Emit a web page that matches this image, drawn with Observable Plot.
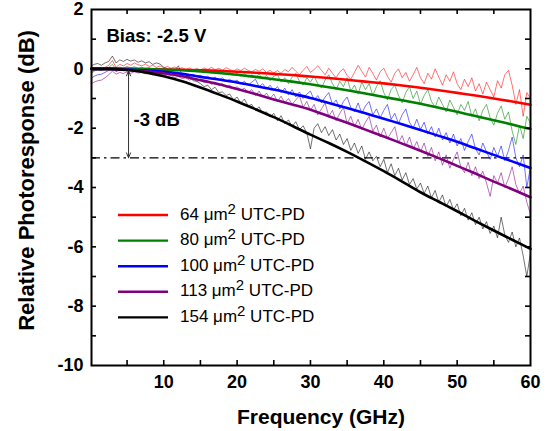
<!DOCTYPE html>
<html><head><meta charset="utf-8">
<script src="https://cdn.jsdelivr.net/npm/d3@7"></script>
<script src="https://cdn.jsdelivr.net/npm/@observablehq/plot@0.6"></script>
<style>body{margin:0;background:#fff}#chart{width:554px;height:431px}</style>
</head><body><div id="chart"></div>
<script>
// ---------- data ----------
const seriesNames = ["64", "80", "100", "113", "154"];
const seriesColors = ["#ff0000", "#008000", "#0000ff", "#800080", "#000000"];
const legendLabels = ["64", "80", "100", "113", "154"];

// fitted curves (dB) at these frequencies (GHz)
const fitFreq = [0.15, 2.5, 5, 7.5, 10, 12.5, 15, 17.5, 20, 22.5, 25, 27.5, 30, 32.5, 35, 37.5, 40, 42.5, 45, 47.5, 50, 52.5, 55, 57.5, 60];
const fit64  = [0, 0, 0, -0.01, -0.02, -0.03, -0.05, -0.07, -0.1, -0.13, -0.17, -0.21, -0.26, -0.31, -0.37, -0.43, -0.49, -0.56, -0.64, -0.72, -0.81, -0.9, -1.0, -1.1, -1.21];
const fit80  = [0, 0, 0, -0.01, -0.03, -0.05, -0.09, -0.14, -0.2, -0.27, -0.35, -0.43, -0.52, -0.62, -0.72, -0.83, -0.95, -1.06, -1.18, -1.31, -1.45, -1.59, -1.73, -1.88, -2.03];
const fit100 = [0, 0, -0.02, -0.05, -0.1, -0.17, -0.27, -0.36, -0.46, -0.58, -0.7, -0.84, -0.98, -1.15, -1.32, -1.5, -1.68, -1.87, -2.06, -2.26, -2.46, -2.68, -2.9, -3.12, -3.34];
const fit113 = [0, 0, -0.03, -0.08, -0.15, -0.25, -0.38, -0.52, -0.68, -0.85, -1.03, -1.2, -1.38, -1.6, -1.82, -2.05, -2.28, -2.52, -2.76, -3.01, -3.27, -3.53, -3.8, -4.06, -4.33];
const fit154 = [0, 0, -0.04, -0.12, -0.25, -0.42, -0.63, -0.86, -1.1, -1.36, -1.63, -1.92, -2.22, -2.5, -2.8, -3.12, -3.45, -3.8, -4.16, -4.48, -4.8, -5.13, -5.45, -5.76, -6.07];

// measured traces: sweep at 0.15 GHz, then every 0.5 GHz up to 60 GHz
const measFreq = [0.15].concat(d3.range(0.5, 60.01, 0.5));
const meas64 = [-0.12,
 -0.05, 0.02, -0.03, 0.05, 0.12, 0.28, 0.05, 0.15, 0.1, 0.18,
 0.12, 0.2, 0.14, 0.1, 0.16, 0.08, 0.12, 0.05, 0.1, 0.03,
 0.08, 0.02, 0.06, 0.0, 0.04, -0.02, 0.03, -0.03, 0.02, -0.04,
 0.03, -0.02, 0.05, -0.03, 0.02, -0.05, 0.04, -0.02, -0.08, 0.0,
 -0.06, 0.02, -0.05, -0.1, -0.02, -0.08, 0.0, -0.12, -0.05, -0.14,
 -0.06, -0.15, -0.02, -0.1, 0.05, -0.08, -0.2, -0.05, 0.08, -0.12,
 -0.02, 0.1, -0.05, -0.2, 0.02, -0.15, -0.3, -0.1, 0.0, -0.22,
 -0.35, -0.12, 0.12, -0.08, -0.28, 0.05, -0.15, -0.38, -0.1, 0.02,
 -0.25, -0.45, -0.15, 0.0, -0.3, -0.12, -0.42, -0.2, 0.05, -0.3,
 -0.5, -0.15, -0.35, 0.0, -0.28, -0.55, -0.2, -0.42, -0.1, -0.5,
 -0.7, -0.35, -0.6, -0.3, -0.75, -0.5, -0.85, -0.45, -0.7, -0.95,
 -0.4, -0.65, -0.2, -0.05, -0.55, -1.2, -0.7, -1.6, -0.8, -1.0];
const meas80 = [-0.15,
 -0.08, -0.02, -0.06, 0.0, 0.05, 0.15, -0.02, 0.06, 0.02, 0.08,
 0.03, 0.07, 0.01, 0.05, 0.0, 0.04, -0.02, 0.03, -0.03, 0.01,
 -0.04, 0.0, -0.05, -0.01, -0.06, -0.03, -0.08, -0.04, -0.1, -0.06,
 -0.12, -0.07, -0.14, -0.09, -0.16, -0.1, -0.2, -0.12, -0.22, -0.15,
 -0.25, -0.16, -0.28, -0.2, -0.3, -0.18, -0.35, -0.22, -0.4, -0.25,
 -0.2, -0.45, -0.3, -0.5, -0.28, -0.15, -0.42, -0.55, -0.3, -0.45,
 -0.25, -0.5, -0.65, -0.38, -0.2, -0.5, -0.7, -0.42, -0.6, -0.3,
 -0.75, -0.55, -0.85, -0.45, -0.7, -0.5, -0.9, -0.6, -0.4, -0.8,
 -1.05, -0.7, -0.55, -0.9, -1.15, -0.8, -0.6, -1.0, -0.75, -1.2,
 -0.9, -0.7, -1.1, -1.3, -0.95, -1.2, -1.45, -1.05, -1.3, -1.55,
 -1.2, -1.4, -1.1, -1.6, -1.35, -1.75, -1.4, -1.2, -1.65, -1.9,
 -1.5, -1.25, -1.7, -1.45, -2.1, -2.55, -1.9, -2.35, -1.6, -1.85];
const meas100 = [-0.32,
 -0.25, -0.2, -0.18, -0.12, -0.05, 0.05, -0.1, -0.02, -0.06, 0.0,
 -0.05, -0.02, -0.07, -0.03, -0.08, -0.05, -0.1, -0.07, -0.12, -0.09,
 -0.14, -0.1, -0.16, -0.13, -0.2, -0.15, -0.22, -0.18, -0.27, -0.22,
 -0.3, -0.25, -0.35, -0.28, -0.38, -0.3, -0.42, -0.35, -0.45, -0.38,
 -0.5, -0.42, -0.55, -0.45, -0.35, -0.6, -0.5, -0.68, -0.55, -0.72,
 -0.6, -0.8, -0.65, -0.88, -0.7, -0.95, -0.78, -1.0, -0.85, -0.75,
 -1.05, -0.9, -1.15, -0.95, -0.8, -1.2, -1.05, -1.35, -1.1, -0.95,
 -1.3, -1.45, -1.15, -1.5, -1.25, -1.1, -1.55, -1.35, -1.65, -1.4,
 -1.2, -1.7, -1.5, -1.85, -1.55, -1.35, -1.8, -2.0, -1.7, -2.05,
 -1.8, -2.2, -1.95, -2.3, -2.0, -2.4, -2.15, -2.5, -2.2, -2.6,
 -2.35, -2.75, -2.45, -2.2, -2.7, -2.9, -2.5, -2.8, -3.05, -2.65,
 -2.95, -2.6, -3.1, -2.75, -2.3, -3.0, -3.3, -2.9, -4.0, -3.3];
const meas113 = [-0.5,
 -0.45, -0.4, -0.38, -0.3, -0.2, -0.08, -0.18, -0.12, -0.16, -0.1,
 -0.15, -0.1, -0.14, -0.12, -0.17, -0.13, -0.2, -0.16, -0.22, -0.18,
 -0.25, -0.22, -0.3, -0.25, -0.33, -0.3, -0.38, -0.33, -0.42, -0.38,
 -0.46, -0.42, -0.52, -0.47, -0.56, -0.5, -0.62, -0.55, -0.68, -0.6,
 -0.72, -0.65, -0.8, -0.7, -0.9, -0.75, -0.95, -0.82, -1.0, -0.85,
 -1.1, -0.92, -1.15, -1.0, -1.2, -1.05, -0.9, -1.3, -1.1, -1.4,
 -1.2, -1.55, -1.35, -1.15, -1.6, -1.4, -1.75, -1.5, -1.3, -1.85,
 -1.6, -1.95, -1.7, -2.05, -1.8, -1.6, -2.1, -1.9, -2.3, -2.0,
 -2.35, -2.15, -1.95, -2.5, -2.25, -2.6, -2.3, -2.7, -2.45, -2.8,
 -2.5, -2.95, -2.65, -3.1, -2.8, -3.25, -2.9, -3.35, -3.05, -2.8,
 -3.3, -3.5, -3.15, -3.6, -3.3, -3.7, -3.45, -3.85, -4.3, -3.6,
 -3.85, -3.5, -4.0, -3.7, -3.3, -3.9, -4.2, -3.95, -4.5, -4.9];
const meas154 = [0.1,
 0.15, 0.18, 0.12, 0.2, 0.25, 0.43, 0.2, 0.3, 0.25, 0.32,
 0.26, 0.3, 0.22, 0.27, 0.2, 0.24, 0.15, 0.2, 0.16, 0.05,
 0.0, -0.08, -0.05, 0.1, -0.2, -0.28, -0.25, -0.4, -0.42, -0.5,
 -0.6, -0.55, -0.7, -0.62, -0.8, -0.78, -0.9, -0.85, -1.05, -0.95,
 -1.15, -1.02, -1.25, -1.2, -1.4, -1.28, -1.5, -1.45, -1.62, -1.5,
 -1.75, -1.58, -1.85, -1.72, -1.95, -1.78, -2.05, -1.92, -2.15, -2.7,
 -2.0, -1.85, -2.15, -1.95, -2.25, -2.05, -2.4, -2.2, -2.55, -2.35,
 -2.75, -2.5, -2.85, -2.6, -3.05, -2.8, -3.1, -2.95, -3.3, -3.05,
 -3.5, -3.2, -3.6, -3.35, -3.75, -3.5, -3.9, -3.7, -4.05, -3.85,
 -4.2, -3.95, -4.35, -4.1, -4.5, -4.25, -4.65, -4.4, -4.75, -4.55,
 -4.95, -4.7, -5.1, -4.85, -5.25, -5.0, -5.4, -5.15, -5.55, -5.3,
 -5.7, -5.0, -5.6, -5.85, -5.5, -6.0, -5.7, -6.3, -7.0, -6.2];

const xTickLabels = [10, 20, 30, 40, 50, 60];
const xTicks = [5, 10, 15, 20, 25, 30, 35, 40, 45, 50, 55];
const yTickLabels = [-10, -8, -6, -4, -2, 0, 2];
const yTicks = [-9, -8, -7, -6, -5, -4, -3, -2, -1, 0, 1];
const refLevel = [-3];

// ---------- build rows ----------
const fits = [fit64, fit80, fit100, fit113, fit154];
const meas = [meas64, meas80, meas100, meas113, meas154];
const fitRows = seriesNames.flatMap((s, i) => fitFreq.map((f, j) => ({s, f, v: fits[i][j]})));
const measRows = seriesNames.flatMap((s, i) => measFreq.map((f, j) => ({s, f, v: meas[i][j]})));

const W = 554, H = 431, mL = 91, mR = 24, mT = 9, mB = 66;
const pW = W - mL - mR, pH = H - mT - mB, tk = 5;
const font = "'Liberation Sans', Arial, Helvetica, sans-serif";
const arrowX = 5.2, arrowMid = -1.5, arrowTop = -0.07;

const chart = Plot.plot({
  width: W, height: H,
  marginLeft: mL, marginRight: mR, marginTop: mT, marginBottom: mB,
  style: {fontFamily: font, background: "#fff", color: "#000"},
  x: {domain: [0.15, 60]},
  y: {domain: [-10, 2]},
  color: {domain: seriesNames, range: seriesColors},
  marks: [
    Plot.ruleY(refLevel, {stroke: "#000", strokeWidth: 1.3, strokeDasharray: "9,4,2.5,4"}),
    Plot.line(measRows, {x: "f", y: "v", z: "s", stroke: "s", strokeWidth: 1, strokeOpacity: 0.55}),
    Plot.line(fitRows, {x: "f", y: "v", z: "s", stroke: "s", strokeWidth: 2.6, curve: "monotone-x"}),
    Plot.arrow(refLevel, {x1: arrowX, x2: arrowX, y1: arrowMid, y2: arrowTop, stroke: "#333", strokeWidth: 1, headLength: 8, headAngle: 45}),
    Plot.arrow(refLevel, {x1: arrowX, x2: arrowX, y1: arrowMid, y2: d => d, stroke: "#333", strokeWidth: 1, headLength: 8, headAngle: 45}),
    Plot.tickX(xTicks, {x: d => d, insetTop: pH - tk, strokeWidth: 1.6}),
    Plot.tickX(xTicks, {x: d => d, insetBottom: pH - tk, strokeWidth: 1.6}),
    Plot.tickY(yTicks, {y: d => d, insetRight: pW - tk, strokeWidth: 1.6}),
    Plot.tickY(yTicks, {y: d => d, insetLeft: pW - tk, strokeWidth: 1.6}),
    Plot.axisX(xTickLabels, {tickSize: 0, tickPadding: 10, fontSize: 18, fontWeight: "bold", label: null, tickFormat: d => String(d)}),
    Plot.axisY(yTickLabels, {tickSize: 0, tickPadding: 8, fontSize: 18, fontWeight: "bold", label: null, tickFormat: d => String(d)}),
    Plot.frame({stroke: "#000", strokeWidth: 2}),
    Plot.text(["Frequency (GHz)"], {frameAnchor: "bottom", dx: 10, dy: 58, textAnchor: "middle", lineAnchor: "bottom", fontSize: 21, fontWeight: "bold"}),
    Plot.text(["Relative Photoresponse (dB)"], {frameAnchor: "left", rotate: -90, dx: -58, dy: -7, textAnchor: "middle", lineAnchor: "bottom", fontSize: 22, fontWeight: "bold"}),
    Plot.text(["Bias: -2.5 V"], {frameAnchor: "top-left", dx: 15, dy: 32.5, textAnchor: "start", lineAnchor: "bottom", fontSize: 18.5, fontWeight: "bold"}),
    Plot.text(["-3 dB"], {frameAnchor: "top-left", dx: 42, dy: 116.5, textAnchor: "start", lineAnchor: "bottom", fontSize: 18.5, fontWeight: "bold"})
  ]
});
document.getElementById("chart").appendChild(chart);

// ---------- legend (inside the plot) ----------
const svg = d3.select(chart);
const lg = svg.append("g").attr("font-family", font).attr("font-size", 17).attr("text-anchor", "start");
seriesNames.forEach((s, i) => {
  const y = 215 + i * 25.6;
  lg.append("line").attr("x1", 118).attr("x2", 168).attr("y1", y).attr("y2", y)
    .attr("stroke", seriesColors[i]).attr("stroke-width", 2.4);
  const t = lg.append("text").attr("x", 180).attr("y", y + 4.5).attr("fill", "#000").attr("text-anchor", "start");
  t.append("tspan").text(legendLabels[i] + " \u03BCm");
  t.append("tspan").attr("dy", -6).attr("font-size", 15).text("2");
  t.append("tspan").attr("dy", 6).text(" UTC-PD");
});
</script>
</body></html>
